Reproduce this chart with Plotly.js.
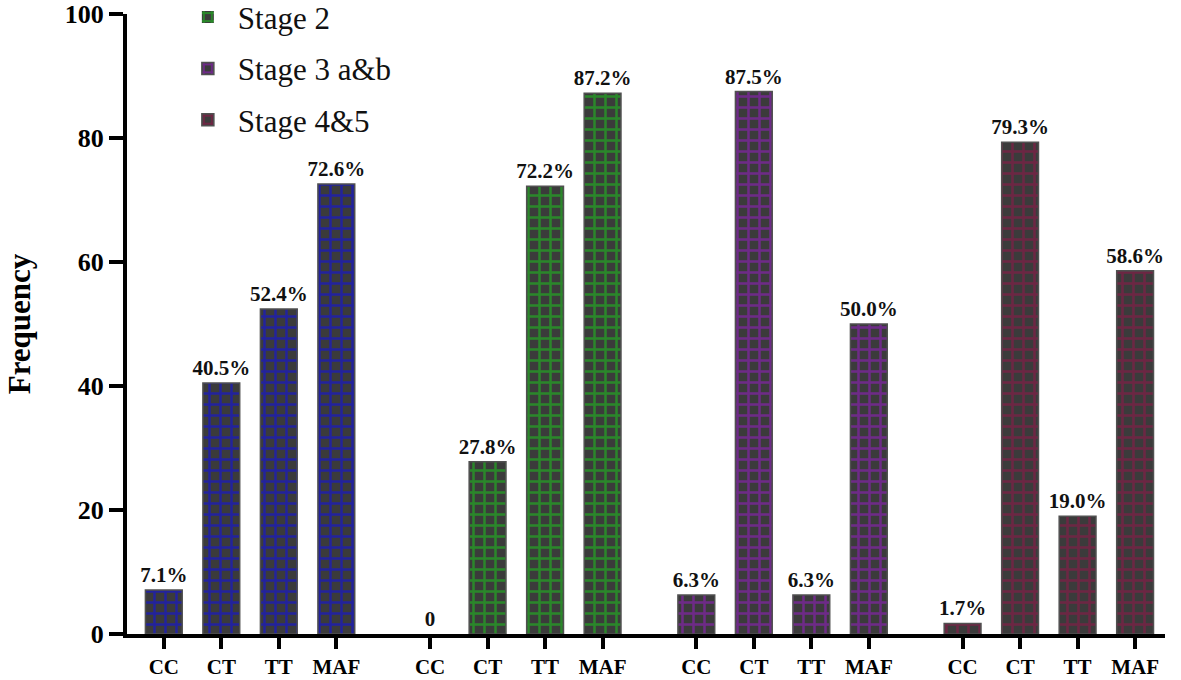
<!DOCTYPE html>
<html><head><meta charset="utf-8">
<script src="https://cdn.plot.ly/plotly-3.0.1.min.js"></script>
<style>body{margin:0;background:#fff}#c{width:1181px;height:680px}</style>
</head><body><div id="c"></div>
<script>
const genotypes = ["CC","CT","TT","MAF"];
const groupNames = ["Stage 1","Stage 2","Stage 3 a&b","Stage 4&5"];
const stage1 = [7.1, 40.5, 52.4, 72.6];
const stage2 = [0, 27.8, 72.2, 87.2];
const stage3 = [6.3, 87.5, 6.3, 50.0];
const stage45 = [1.7, 79.3, 19.0, 58.6];
const seriesValues = [stage1, stage2, stage3, stage45];
const patternColors = ["#0a0aff","#19d419","#a21ad6","#a0124c"];
const showInLegend = [false, true, true, true];

const groupStep = 4.63;
const traces = seriesValues.map((vals, g) => ({
  type: "bar",
  name: groupNames[g],
  legendgroup: "g" + g,
  showlegend: showInLegend[g],
  x: genotypes.map((_, i) => g * groupStep + i),
  y: vals,
  width: 0.64,
  text: vals.map(v => v === 0 ? "0" : v.toFixed(1) + "%"),
  textposition: "outside",
  constraintext: "none",
  cliponaxis: false,
  textfont: {family: "Liberation Serif", size: 21, color: "#111", weight: "bold"},
  marker: {
    color: "#3b3b3b",
    line: {color: "#505050", width: vals.map(v => v === 0 ? 0 : 1.5)},
    pattern: {shape: "+", fgcolor: patternColors[g], bgcolor: "#3b3b3b", size: 11, solidity: 0.4, fillmode: "overlay"}
  }
}));

const tickvals = [], ticktext = [];
seriesValues.forEach((_, g) => genotypes.forEach((t, i) => { tickvals.push(g * groupStep + i); ticktext.push(t); }));

const layout = {
  width: 1181, height: 680,
  margin: {l: 127, r: 16, t: 14, b: 46, autoexpand: false},
  paper_bgcolor: "#fff", plot_bgcolor: "#fff",
  font: {family: "Liberation Serif", color: "#000"},
  bargap: 0,
  showlegend: true,
  legend: {x: 0.049, y: 1.038, xanchor: "left", yanchor: "top", font: {size: 31, family: "Liberation Serif", color: "#111"},
           tracegroupgap: 8, itemwidth: 50, bgcolor: "rgba(0,0,0,0)"},
  xaxis: {
    range: [-0.64, 17.41], tickmode: "array", tickvals: tickvals, ticktext: ticktext, ticklabeloverflow: "allow",
    showline: true, linecolor: "#000", linewidth: 4, ticks: "outside", ticklen: 11, tickwidth: 4, tickcolor: "#000",
    tickfont: {size: 21, family: "Liberation Serif", color: "#000", weight: "bold"},
    showgrid: false, zeroline: false, fixedrange: true
  },
  yaxis: {
    range: [0, 100], tickvals: [0,20,40,60,80,100], ticklabeloverflow: "allow",
    showline: true, linecolor: "#000", linewidth: 4, ticks: "outside", ticklen: 14, tickwidth: 4, tickcolor: "#000",
    tickfont: {size: 26, family: "Liberation Serif", color: "#000", weight: "bold"},
    title: {text: "Frequency", font: {size: 31, family: "Liberation Serif", color: "#000", weight: "bold"}, standoff: 26},
    showgrid: false, zeroline: false, fixedrange: true
  }
};
Plotly.newPlot("c", traces, layout, {displayModeBar: false, staticPlot: true});
</script></body></html>
